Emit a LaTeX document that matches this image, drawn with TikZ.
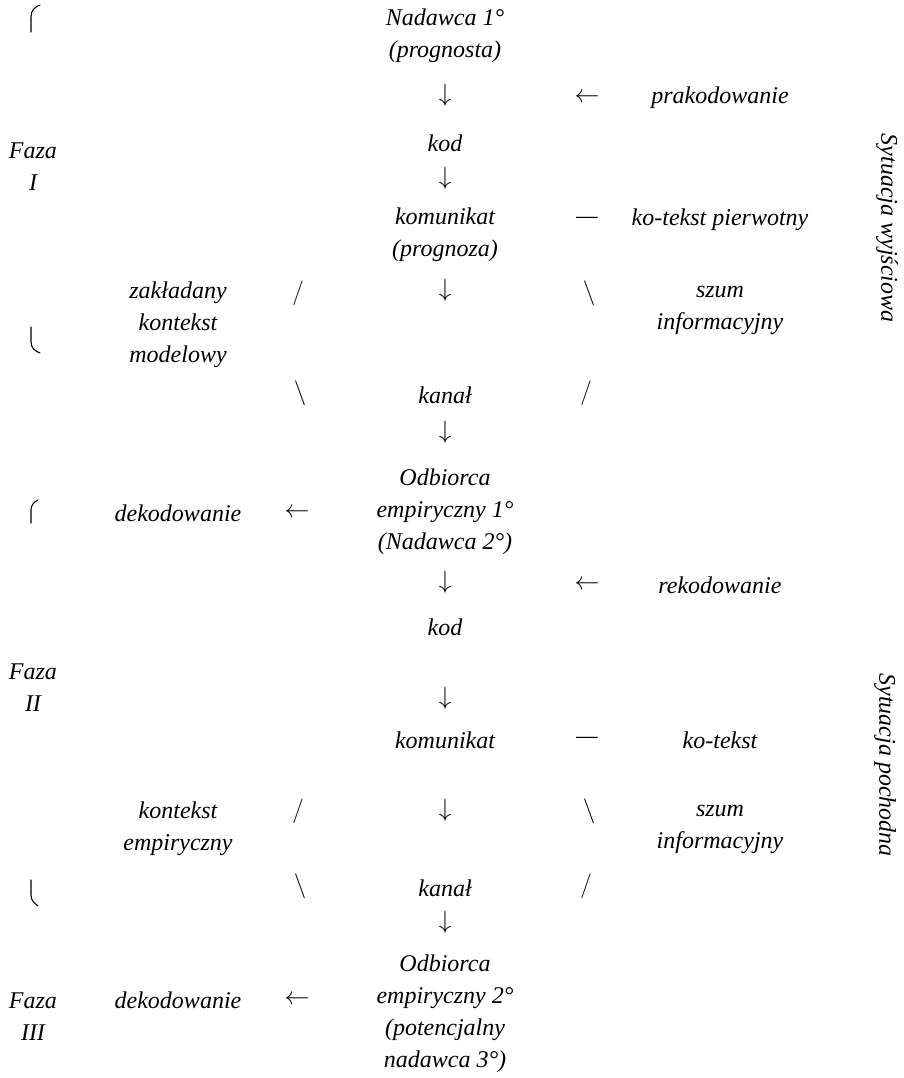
\documentclass[tikz,border=0pt]{standalone}
\usepackage{fontspec}
\setmainfont{Liberation Serif}
\begin{document}
\begin{tikzpicture}[x=1pt,y=-1pt,
  t/.style={font=\fontsize{24}{32}\selectfont\itshape, inner sep=0pt, align=center},
  brk/.style={line width=1.1pt, line cap=round}]
\useasboundingbox (0,0) rectangle (904,1078);
% central column
\node[t] (n1) at (445,36) {Nadawca 1°\\(prognosta)};
\node[t] (d1) at (445,95) {$\downarrow$};
\node[t] (l1) at (587,98) {$\leftarrow$};
\node[t] (prak) at (720,98) {prakodowanie};
\node[t] (kod1) at (445,143) {kod};
\node[t] (d2) at (445,178) {$\downarrow$};
\node[t] (kom1) at (445,235) {komunikat\\(prognoza)};
\node[t] (dash1) at (587,220) {—};
\node[t] (kot1) at (720,220) {ko-tekst pierwotny};
\node[t] (d3) at (445,290) {$\downarrow$};
\node[t] (zak) at (178,325) {zakładany\\kontekst\\modelowy};
\node[t] (sl1) at (298,293) {$/$};
\node[t] (bs1) at (589,293) {$\backslash$};
\node[t] (szum1) at (720,310) {szum\\informacyjny};
\node[t] (bs2) at (300,393) {$\backslash$};
\node[t] (kan1) at (445,395) {kanał};
\node[t] (sl2) at (586,393) {$/$};
\node[t] (d4) at (445,432) {$\downarrow$};
\node[t] (odb1) at (445,512) {Odbiorca\\empiryczny 1°\\(Nadawca 2°)};
\node[t] (dek1) at (178,513) {dekodowanie};
\node[t] (l2) at (297,513) {$\leftarrow$};
\node[t] (d5) at (445,582) {$\downarrow$};
\node[t] (l3) at (587,585) {$\leftarrow$};
\node[t] (rek) at (720,585) {rekodowanie};
\node[t] (kod2) at (445,627) {kod};
\node[t] (d6) at (445,698) {$\downarrow$};
\node[t] (kom2) at (445,740) {komunikat};
\node[t] (dash2) at (587,740) {—};
\node[t] (kot2) at (720,740) {ko-tekst};
\node[t] (kon2) at (178,829) {kontekst\\empiryczny};
\node[t] (sl3) at (298,811) {$/$};
\node[t] (d7) at (445,810) {$\downarrow$};
\node[t] (bs3) at (589,811) {$\backslash$};
\node[t] (szum2) at (720,829) {szum\\informacyjny};
\node[t] (bs4) at (300,886) {$\backslash$};
\node[t] (kan2) at (445,888) {kanał};
\node[t] (sl4) at (586,886) {$/$};
\node[t] (d8) at (445,922) {$\downarrow$};
\node[t] (odb2) at (445,1014) {Odbiorca\\empiryczny 2°\\(potencjalny\\nadawca 3°)};
\node[t] (dek2) at (178,1000) {dekodowanie};
\node[t] (l4) at (297,1000) {$\leftarrow$};
% phases
\node[t] (f1) at (33,167) {Faza\\I};
\node[t] (f2) at (33,688) {Faza\\II};
\node[t] (f3) at (33,1017) {Faza\\III};
% situations
\node[t, rotate=-90] (s1) at (887,228) {Sytuacja wyjściowa};
\node[t, rotate=-90] (s2) at (885,765) {Sytuacja pochodna};
% brackets
\draw[brk] (31,32) -- (31,17) .. controls (31,10) and (35,7) .. (40,5);
\draw[brk] (31,327) -- (31,342) .. controls (31,348) and (35,351) .. (40,353);
\draw[brk] (31,523) -- (31,510) .. controls (31,505) and (34,502) .. (38,500);
\draw[brk] (31,880) -- (31,895) .. controls (31,900) and (34,903) .. (38,906);
\end{tikzpicture}
\end{document}
